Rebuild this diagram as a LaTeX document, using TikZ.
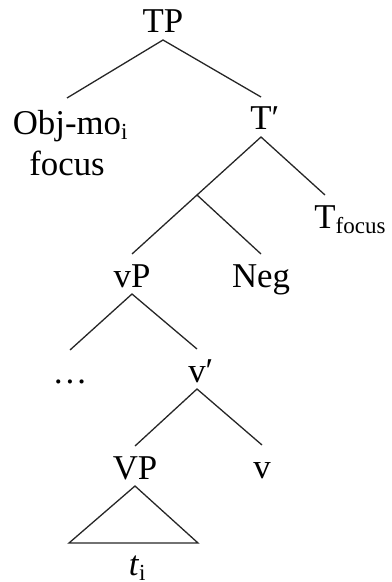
\documentclass[tikz,border=0pt]{standalone}
\usepackage{fontspec}
\setmainfont{Liberation Serif}
\newcommand{\lsub}[1]{\rlap{\raisebox{-2.5pt}{\fontsize{11.5}{13}\selectfont #1}}}
\newcommand{\primemark}{\rlap{′}}

\begin{document}
\begin{tikzpicture}[x=0.5pt, y=-0.5pt,
    font=\fontsize{17.4}{20.5}\selectfont,
    tree/.style={inner sep=0pt, outer sep=0pt, anchor=base, text height=16.5pt, text depth=3.5pt},
    branch/.style={black!85, line width=0.65pt}]
        \useasboundingbox (0,0) rectangle (391,582);

        % upper part
        \node[tree] (tp) at (163,33) {TP};
        \node[inner sep=0pt, outer ysep=6pt, anchor=north, align=center] (obj) at (67,98) {Obj-mo\lsub{i}\\focus};
        \node[tree] (tbar) at (261,130) {T\primemark};
        \coordinate (j) at (197,195);
        \node[tree] (tfoc) at (325,228) {T\lsub{focus}};

        % vP and Neg
        \node[tree] (vp) at (132,287) {vP};
        \node[tree] (neg) at (261,287) {Neg};
        \node[tree] (dots) at (70,383) {\dots};
        \node[tree] (vbar) at (197,382) {v\primemark};

        % lower part
        \node[tree] (VP) at (135,479) {VP};
        \node[tree] (v) at (262,478) {v};
        \coordinate (tl) at (69,543);
        \coordinate (tr) at (198,543);
        \node[tree] (ti) at (134,575) {\textit{t}\lsub{i}};

        % branches
        \draw[branch] (obj.north) -- (tp.south) -- (tbar.north);
        \draw[branch] (j) -- (tbar.south) -- (tfoc.north);
        \draw[branch] (vp.north) -- (j) -- (neg.north);
        \draw[branch] (dots.north) -- (vp.south) -- (vbar.north);
        \draw[branch] (VP.north) -- (vbar.south) -- (v.north);
        \draw[branch] (VP.south) -- (tl) -- (tr) -- cycle;
\end{tikzpicture}
\end{document}
